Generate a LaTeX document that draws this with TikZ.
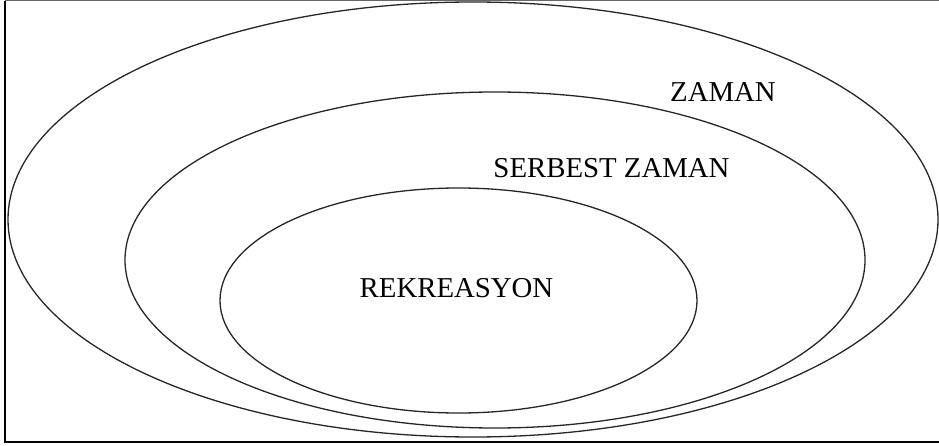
\documentclass[tikz,border=0pt]{standalone}
\usepackage{fontspec}
\setmainfont{Liberation Serif}
\begin{document}
\begin{tikzpicture}[x=1pt,y=-1pt,
  ring/.style={draw=black!85, line width=1.3pt},
  frame/.style={draw=black, line width=2pt},
  lbl/.style={anchor=base, inner sep=0pt, font=\fontsize{28.8}{30}\selectfont}]
\useasboundingbox (0,0) rectangle (939,446);
% frame
\draw[frame] (5,0.6) -- (5,441.5) -- (939,441.5);
\draw[draw=black!60, line width=1.2pt] (5,0.6) -- (939,0.6);
% ellipses
\draw[ring] (473,219.5) ellipse [x radius=465, y radius=217.5];
\draw[ring] (495,260) ellipse [x radius=370, y radius=168];
\draw[ring] (458.5,300.5) ellipse [x radius=238.5, y radius=112.5];
% labels
\node[lbl] (zaman) at (723,102) {ZAMAN};
\node[lbl] (serbest) at (611.5,178) {SERBEST ZAMAN};
\node[lbl] (rek) at (456.5,297) {REKREASYON};
\end{tikzpicture}
\end{document}
